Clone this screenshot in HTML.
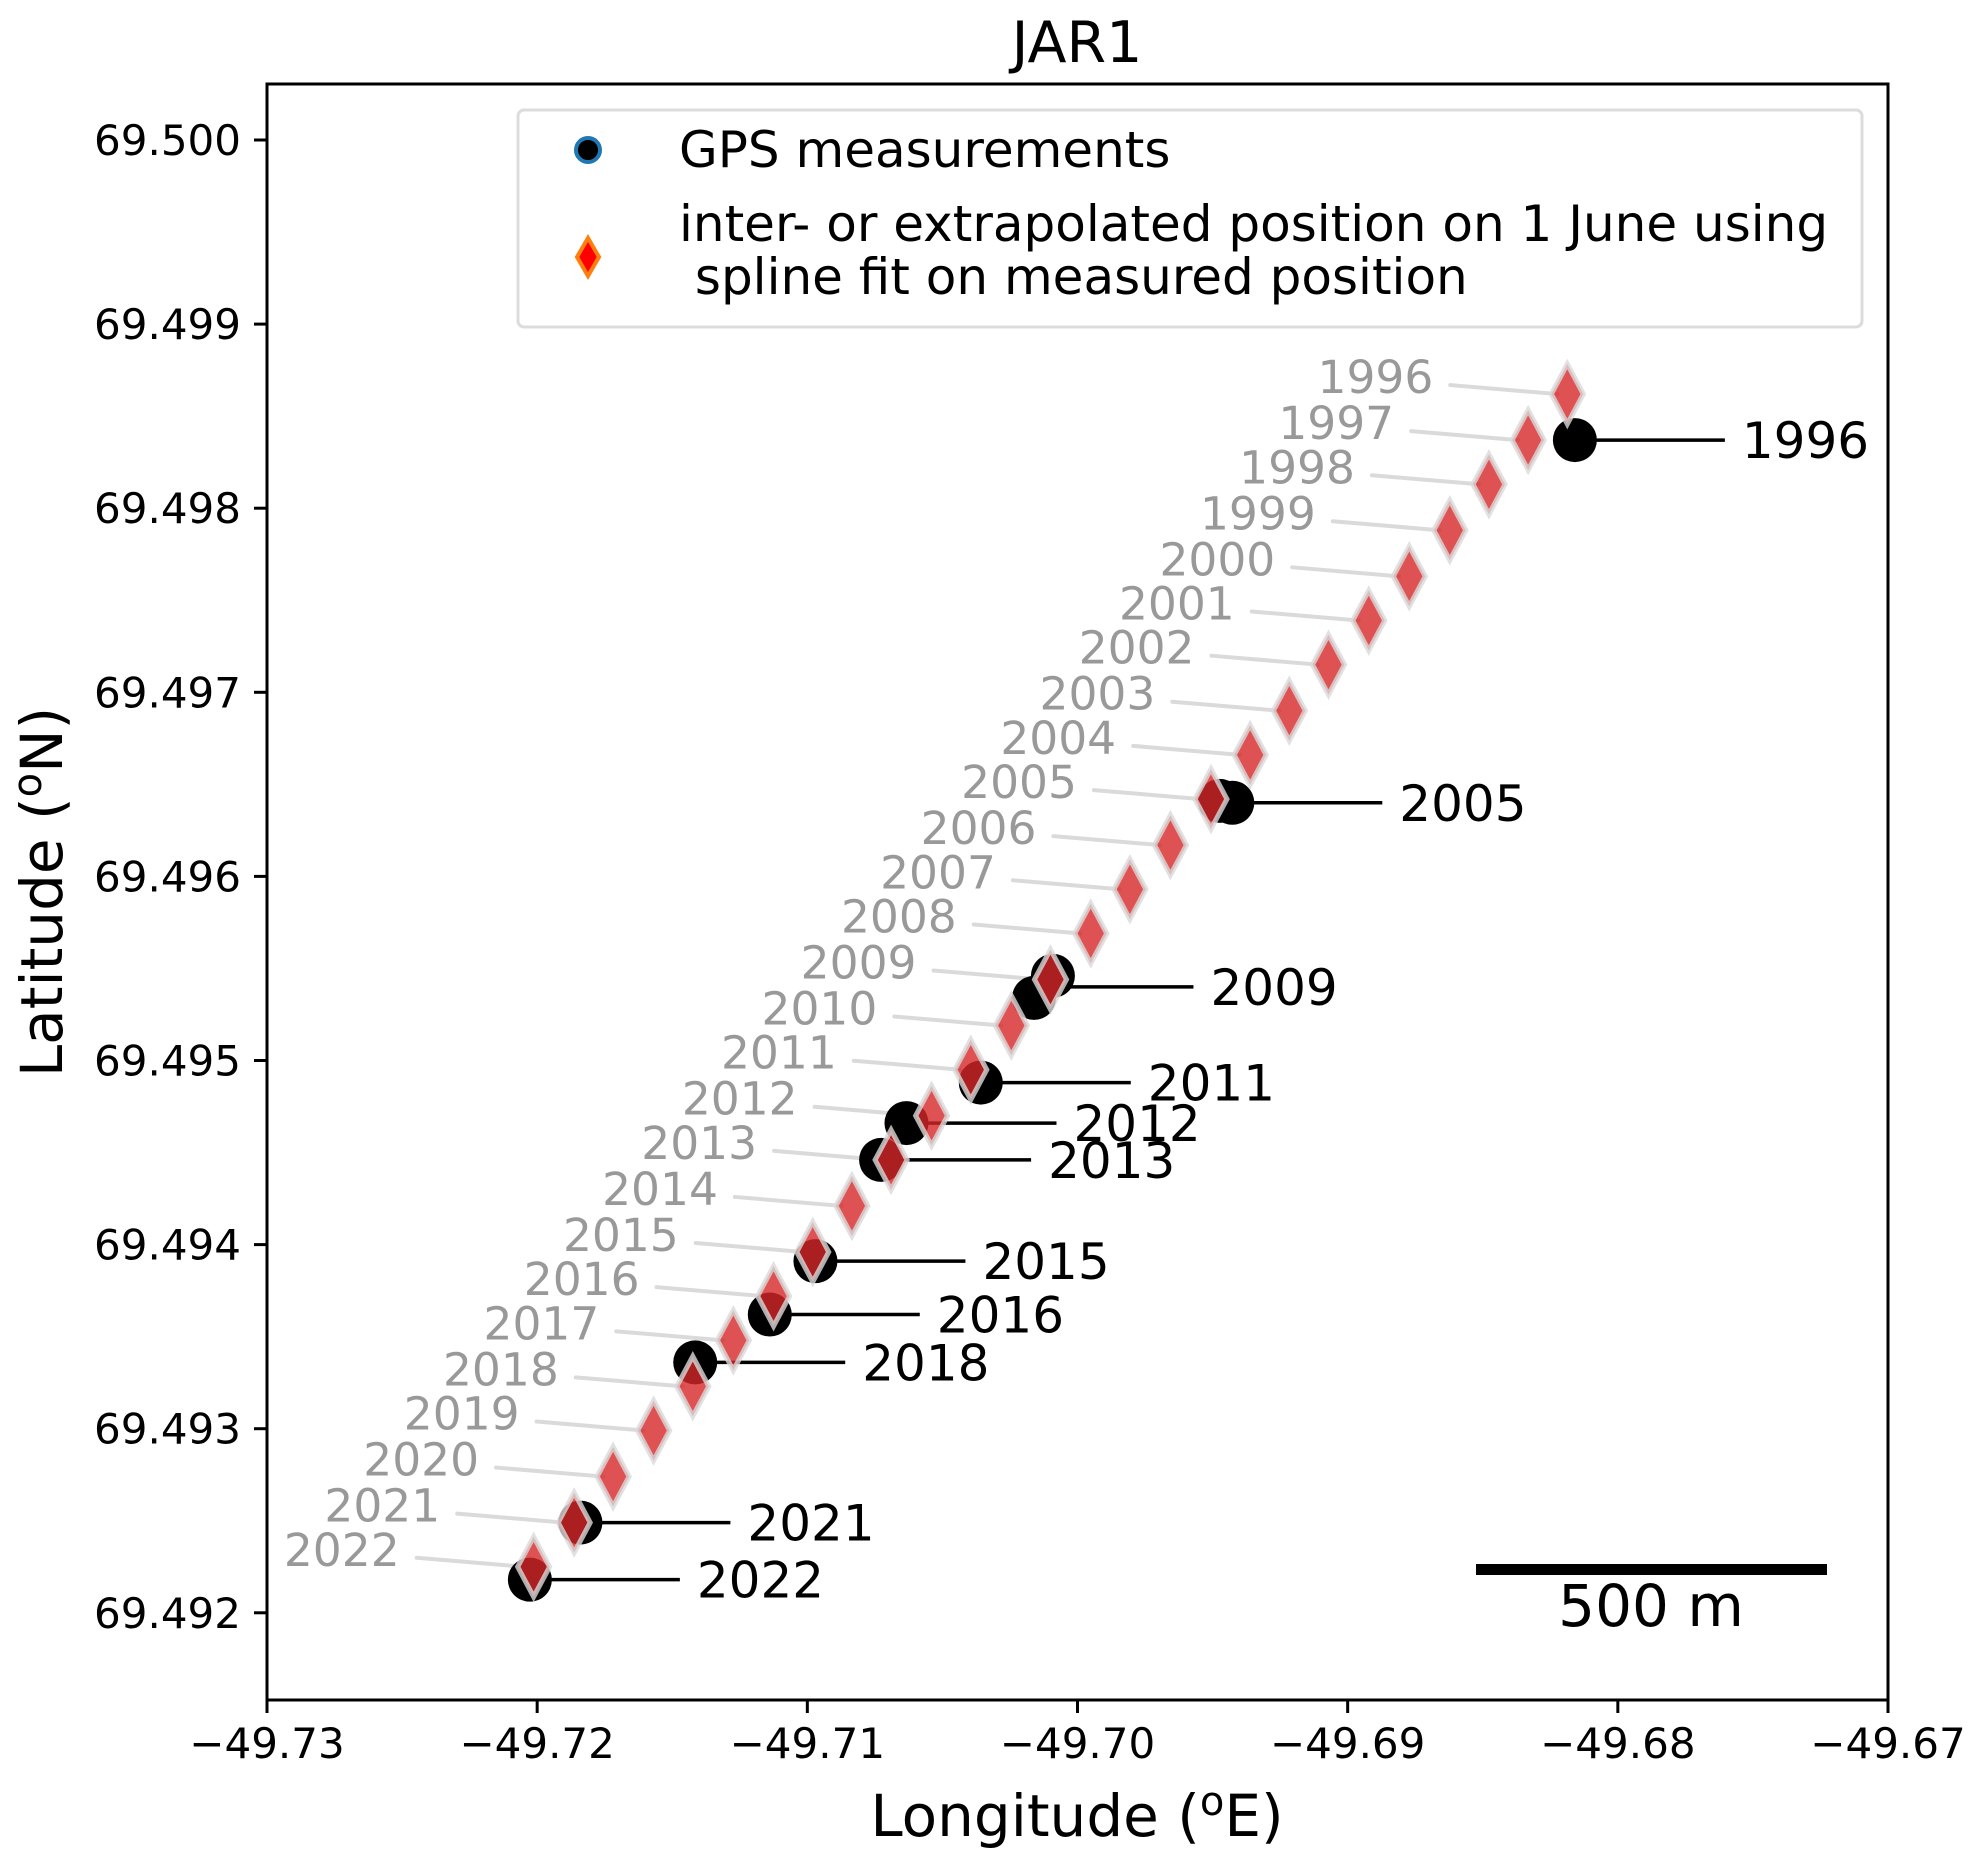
<!DOCTYPE html>
<html><head><meta charset="utf-8"><style>
html,body{margin:0;padding:0;background:#fff;}
svg{display:block;font-family:"DejaVu Sans","Liberation Sans",sans-serif;}
</style></head><body>
<svg id="chart" width="1982" height="1864" viewBox="0 0 1982 1864" xmlns="http://www.w3.org/2000/svg">
<rect width="1982" height="1864" fill="#fff"/>
<text x="1077" y="62" font-size="57" text-anchor="middle">JAR1</text>
<g id="plot"></g>
<rect x="267" y="84" width="1621" height="1616" fill="none" stroke="#000" stroke-width="3"/>
<g id="axes"></g>
<text x="1077" y="1836" font-size="58" text-anchor="middle">Longitude (<tspan font-size="40" dy="-21">o</tspan><tspan dy="21">E)</tspan></text>
<text transform="translate(62,892) rotate(-90)" font-size="58" text-anchor="middle">Latitude (<tspan font-size="40" dy="-21">o</tspan><tspan dy="21">N)</tspan></text>
<g>
<rect x="518" y="110" width="1344" height="217" rx="6" fill="#fff" fill-opacity="0.8" stroke="#dcdcdc" stroke-width="3"/>
<circle cx="588" cy="150" r="12" fill="#000" stroke="#1f77b4" stroke-width="4"/>
<text x="679" y="167" font-size="50">GPS measurements</text>
<polygon points="588,238 599,257 588,276 577,257" fill="#ff0000" stroke="#ff7f0e" stroke-width="4"/>
<text x="679" y="241" font-size="50">inter- or extrapolated position on 1 June using</text>
<text x="679" y="294" font-size="50" xml:space="preserve"> spline fit on measured position</text>
</g>
<g>
<rect x="1476" y="1564" width="351" height="11" fill="#000"/>
<text x="1651" y="1626" font-size="58" text-anchor="middle">500 m</text>
</g>
</svg>
<script>
const years = [1996,1997,1998,1999,2000,2001,2002,2003,2004,2005,2006,2007,2008,2009,2010,2011,2012,2013,2014,2015,2016,2017,2018,2019,2020,2021,2022];
const splineLon = [-49.68187,-49.68332,-49.68477,-49.68622,-49.68772,-49.68922,-49.69071,-49.69216,-49.69361,-49.69506,-49.69656,-49.69806,-49.69951,-49.70100,-49.70245,-49.70395,-49.70540,-49.70690,-49.70835,-49.70980,-49.71125,-49.71274,-49.71424,-49.71569,-49.71719,-49.71863,-49.72013];
const splineLat = [69.49862,69.49837,69.49813,69.49788,69.49763,69.49739,69.49715,69.49690,69.49666,69.49642,69.49617,69.49593,69.49569,69.49544,69.49519,69.49495,69.49470,69.49446,69.49421,69.49396,69.49372,69.49348,69.49323,69.49299,69.49274,69.49249,69.49225];
const gpsLabels = ["1996","2005","","2009","","","2011","2012","2013","2015","2016","2018","2021","2022"];
const gpsLon = [-49.68159,-49.69427,-49.69473,-49.70126,-49.70091,-49.70161,-49.70358,-49.70633,-49.70727,-49.70970,-49.71139,-49.71415,-49.71840,-49.72027];
const gpsLat = [69.49837,69.49640,69.49641,69.49540,69.49546,69.49534,69.49488,69.49466,69.49446,69.49391,69.49362,69.49336,69.49249,69.49218];
const xTicks = [-49.73,-49.72,-49.71,-49.70,-49.69,-49.68,-49.67];
const xTickLabels = ["\u221249.73","\u221249.72","\u221249.71","\u221249.70","\u221249.69","\u221249.68","\u221249.67"];
const yTicks = [69.492,69.493,69.494,69.495,69.496,69.497,69.498,69.499,69.500];
const yTickLabels = ["69.492","69.493","69.494","69.495","69.496","69.497","69.498","69.499","69.500"];

const NS="http://www.w3.org/2000/svg";
function X(lon){return 267+(lon+49.73)/0.06*1621;}
function Y(lat){return 140+(69.500-lat)/0.001*184.1;}
function mk(tag,attrs,parent){const e=document.createElementNS(NS,tag);for(const k in attrs)e.setAttribute(k,attrs[k]);parent.appendChild(e);return e;}
const plot=document.getElementById('plot');
const axes=document.getElementById('axes');

xTicks.forEach((v,i)=>{
  const x=X(v);
  const t=mk('line',{x1:x,x2:x,y1:1700,y2:1713,stroke:'#000','stroke-width':3},axes);
  
  
  const l=mk('text',{x:x,y:1758,'font-size':42,'text-anchor':'middle'},axes);
  l.textContent=xTickLabels[i];
  
  
});
yTicks.forEach((v,i)=>{
  const y=Y(v);
  const t=mk('line',{x1:254,x2:267,y1:y,y2:y,stroke:'#000','stroke-width':3},axes);
  
  
  const l=mk('text',{x:241,y:y+15,'font-size':42,'text-anchor':'end'},axes);
  l.textContent=yTickLabels[i];
  
  
});

years.forEach((yr,i)=>{
  const x=X(splineLon[i]),y=Y(splineLat[i]);
  const ln=mk('line',{x1:x-117,y1:y-9,x2:x-10,y2:y,stroke:'#dadada','stroke-width':4,'stroke-linecap':'round'},plot);
  
  
  const t=mk('text',{x:x-134,y:y-1,'font-size':45.5,'text-anchor':'end',fill:'#999'},plot);
  t.textContent=yr;
  
  
});
gpsLabels.forEach((lab,i)=>{
  if(!lab)return;
  const x=X(gpsLon[i]),y=Y(gpsLat[i]);
  const ln=mk('line',{x1:x,y1:y,x2:x+150,y2:y,stroke:'#000','stroke-width':3.5},plot);
  
  
  const t=mk('text',{x:x+167,y:y+18,'font-size':50},plot);
  t.textContent=lab;
  
  
});
gpsLon.forEach((lon,i)=>{
  if(i===3)return;
  const c=mk('circle',{cx:X(lon),cy:Y(gpsLat[i]),r:22,fill:'#000'},plot);
  
  
});
splineLon.forEach((lon,i)=>{
  const x=X(lon),y=Y(splineLat[i]);
  const p=mk('polygon',{points:`${x},${y-30} ${x+16},${y} ${x},${y+30} ${x-16},${y}`,fill:'#d62728','fill-opacity':0.8,stroke:'#d9d9d9','stroke-opacity':0.8,'stroke-width':5},plot);
  
  
});
</script>
</body></html>
